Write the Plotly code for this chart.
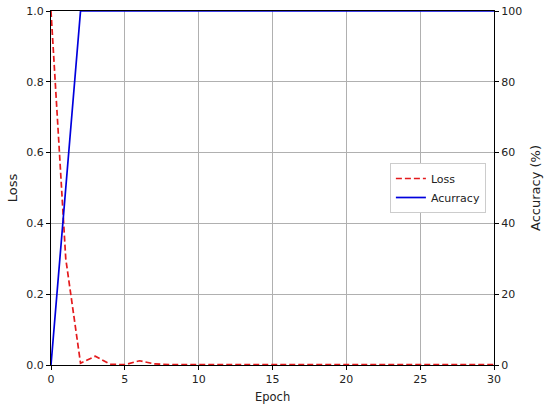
import plotly.graph_objects as go

epochs = list(range(31))
loss = [1.0, 0.3, 0.005, 0.025, 0.002, 0.001, 0.012, 0.003, 0.001, 0.001,
        0.001, 0.001, 0.001, 0.001, 0.001, 0.001, 0.001, 0.001, 0.001, 0.001,
        0.002, 0.001, 0.001, 0.001, 0.001, 0.001, 0.001, 0.001, 0.001, 0.001,
        0.001]
accuracy = [0, 50] + [100] * 29

fig = go.Figure()
fig.add_trace(go.Scatter(
    x=epochs, y=loss, name="Loss", mode="lines",
    line=dict(color="#e41a1c", dash="6px,3px", width=1.7),
    yaxis="y"
))
fig.add_trace(go.Scatter(
    x=epochs, y=accuracy, name="Acurracy", mode="lines",
    line=dict(color="#0000dd", width=1.7),
    yaxis="y2"
))

axis_common = dict(
    showline=True, linecolor="black", linewidth=1,
    ticks="outside", tickcolor="black", ticklen=4,
    zeroline=False, automargin=False,
)

fig.update_layout(
    width=550, height=409,
    margin=dict(l=51, r=56, t=11, b=44),
    plot_bgcolor="white", paper_bgcolor="white",
    font=dict(family="DejaVu Sans", size=11, color="#222222"),
    xaxis=dict(
        range=[0, 30], tickvals=[0, 5, 10, 15, 20, 25, 30],
        showgrid=True, gridcolor="#b0b0b0", mirror=True,
        **axis_common
    ),
    yaxis=dict(
        range=[0, 1], tickvals=[0, 0.2, 0.4, 0.6, 0.8, 1.0],
        tickformat=".1f",
        title=dict(text="Loss", standoff=5),
        showgrid=True, gridcolor="#b0b0b0",
        **axis_common
    ),
    yaxis2=dict(
        range=[0, 100], tickvals=[0, 20, 40, 60, 80, 100],
        title=dict(text="Accuracy (%)", standoff=9),
        overlaying="y", side="right", showgrid=False,
        **axis_common
    ),
    legend=dict(
        x=0.765, y=0.50, xanchor="left", yanchor="middle",
        bordercolor="#cccccc", borderwidth=1, bgcolor="white",
        font=dict(size=11)
    ),
)
# x axis title as annotation so it can sit closer to the tick labels
fig.add_annotation(
    text="Epoch", xref="paper", yref="paper", x=0.5, y=-0.064,
    xanchor="center", yanchor="top", showarrow=False,
    font=dict(size=11.5)
)

fig.write_html(
    "out.html",
    config={"displayModeBar": False},
    post_script="document.body.style.margin='0';"
)
